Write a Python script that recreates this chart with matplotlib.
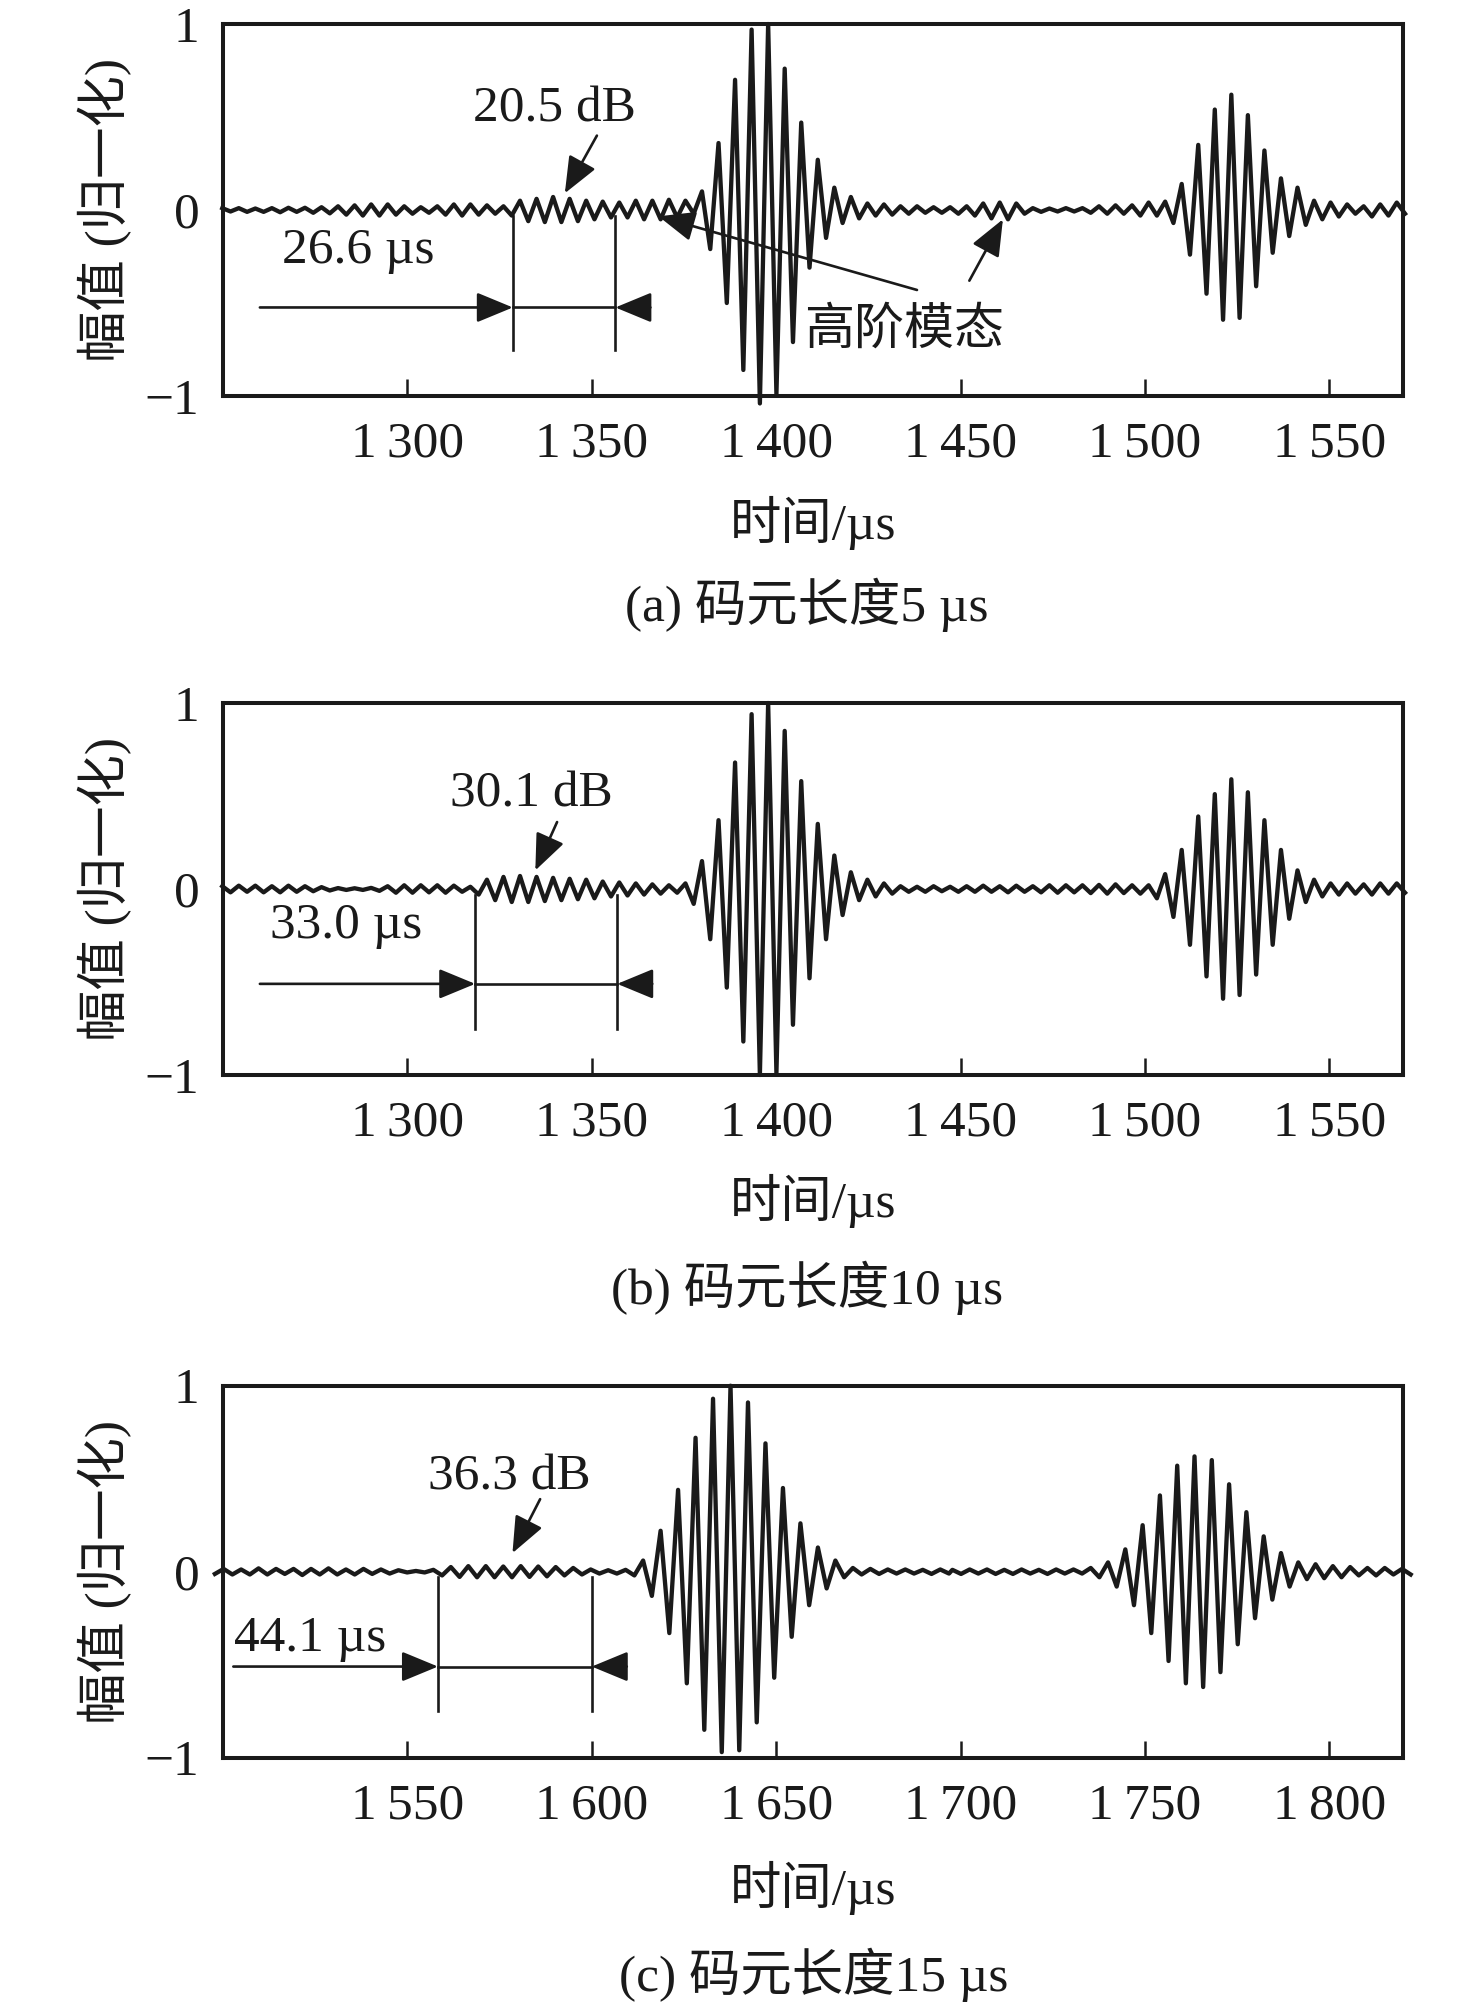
import numpy as np
import matplotlib.pyplot as plt

plt.rcParams['font.family'] = ['Liberation Serif', 'Noto Sans CJK SC', 'DejaVu Serif']

# extrema of each trace: grid start (us), half period (us), signed peak values
start_a = [1249.8]
step_a = [2.243]
amp_a = [[
    0.01, -0.008, 0.01, -0.01, 0.008, -0.01, 0.01, -0.012, 0.012, -0.01, 0.012, -0.015, 0.015, -0.018,
    0.02, -0.025, 0.025, -0.03, 0.03, -0.03, 0.03, -0.025, 0.02, -0.02, 0.015, -0.015, 0.02, -0.025,
    0.03, -0.03, 0.03, -0.025, 0.025, -0.02, 0.02,
    -0.03, 0.05, -0.06, 0.06, -0.065, 0.07, -0.065, 0.06, -0.06, 0.05, -0.05, 0.045, -0.04, 0.04,
    -0.04, 0.05, -0.05, 0.05, -0.05, 0.055, -0.04, 0.05, -0.02,
    0.10, -0.21, 0.36, -0.50, 0.70, -0.86, 0.97, -1.04, 1.0, -0.99, 0.76, -0.71, 0.47, -0.31,
    0.27, -0.15, 0.12, -0.07, 0.07,
    -0.045, 0.035, -0.03, 0.03, -0.025, 0.02, -0.02, 0.02, -0.015, 0.015,
    -0.015, 0.015, -0.02, 0.02,
    -0.03, 0.035, -0.045, 0.04, -0.05, 0.035,
    -0.02, 0.01, -0.01, 0.008, -0.008, 0.01, -0.008, 0.01,
    -0.015, 0.02, -0.02, 0.025, -0.02, 0.025, -0.03, 0.04,
    -0.03, 0.045, -0.07, 0.14, -0.24, 0.35, -0.45, 0.54, -0.59, 0.62, -0.58, 0.51, -0.41, 0.32,
    -0.23, 0.17, -0.14, 0.12,
    -0.08, 0.05, -0.05, 0.04, -0.035, 0.03, -0.02, 0.02, -0.035, 0.03, -0.03, 0.04, -0.02,
]]

start_b = [1249.8]
step_b = [2.243]
amp_b = [[
    0.015, -0.018, 0.018, -0.015, 0.018, -0.018, 0.015, -0.018, 0.018, -0.015, 0.015, -0.012, 0.01, -0.008,
    0.005, -0.005, 0.004, -0.005, 0.006, -0.01,
    0.015, -0.02, 0.02, -0.02, 0.02, -0.018, 0.02, -0.02, 0.018, -0.015, 0.012,
    -0.03, 0.05, -0.06, 0.065, -0.07, 0.07, -0.07, 0.065, -0.065, 0.06, -0.06, 0.055, -0.055, 0.05,
    -0.05, 0.04, -0.04, 0.035, -0.035, 0.03, -0.03, 0.025, -0.025, 0.02, -0.02, 0.03,
    -0.08, 0.15, -0.27, 0.37, -0.53, 0.68, -0.82, 0.94, -1.0, 1.0, -0.99, 0.85, -0.73, 0.58,
    -0.48, 0.35, -0.27, 0.18, -0.14, 0.09,
    -0.06, 0.05, -0.04, 0.03, -0.025,
    0.015, -0.015, 0.012, -0.015, 0.015, -0.012, 0.012, -0.015, 0.015, -0.015, 0.018, -0.015, 0.015,
    -0.018, 0.018, -0.015, 0.015, -0.018, 0.02, -0.02, 0.02, -0.018, 0.02, -0.022, 0.022, -0.025,
    0.025, -0.022, 0.02, -0.025,
    0.02, -0.05, 0.08, -0.15, 0.21, -0.30, 0.39, -0.47, 0.51, -0.59, 0.59, -0.57, 0.52, -0.46,
    0.37, -0.30, 0.21, -0.16, 0.10,
    -0.07, 0.05, -0.04, 0.03, -0.03, 0.03, -0.025, 0.025, -0.03, 0.03, -0.025, 0.03, -0.02,
]]

start_c = [1497.8, 1697.8]
step_c = [2.37, 2.345]
amp_c = [[
    -0.012, 0.015, -0.015, 0.012, -0.015, 0.018, -0.015, 0.015, -0.012, 0.015, -0.018, 0.015,
    -0.015, 0.018, -0.015, 0.012, -0.015, 0.015, -0.012, 0.012, -0.01, 0.008,
    -0.004, 0.004, -0.004,
    0.01, -0.02, 0.025, -0.028, 0.03, -0.03, 0.03, -0.03, 0.028, -0.03, 0.03, -0.028, 0.028,
    -0.025, 0.025, -0.02, 0.02, -0.015, 0.012,
    -0.01, 0.008, -0.01, 0.01, -0.02,
    0.06, -0.13, 0.22, -0.33, 0.44, -0.60, 0.72, -0.85, 0.93, -0.97, 1.0, -0.96, 0.91, -0.81,
    0.69, -0.57, 0.45, -0.35, 0.26, -0.18, 0.13, -0.09, 0.06, -0.03,
    0.02, -0.015, 0.015, -0.012, 0.012, -0.01, 0.012, -0.01, 0.01, -0.012, 0.012, -0.01,
], [
    0.01, -0.012, 0.012, -0.01, 0.012, -0.012, 0.01, -0.012, 0.012, -0.01, 0.01, -0.012,
    0.012, -0.01, 0.012, -0.01,
    0.02, -0.03, 0.05, -0.08, 0.12, -0.18, 0.25, -0.33, 0.41, -0.48, 0.57, -0.60, 0.62, -0.62,
    0.60, -0.54, 0.47, -0.39, 0.32, -0.25, 0.19, -0.15, 0.10, -0.08, 0.05,
    -0.04, 0.04, -0.035, 0.03, -0.03, 0.025, -0.02, 0.02, -0.02, 0.02, -0.015, 0.015, -0.015,
]]

xlims = [(1250, 1570), (1250, 1570), (1500, 1820)]
xticks = [[1300, 1350, 1400, 1450, 1500, 1550],
          [1300, 1350, 1400, 1450, 1500, 1550],
          [1550, 1600, 1650, 1700, 1750, 1800]]
captions = ['(a) 码元长度5 µs', '(b) 码元长度10 µs', '(c) 码元长度15 µs']
snr_labels = ['20.5 dB', '30.1 dB', '36.3 dB']
gap_labels = ['26.6 µs', '33.0 µs', '44.1 µs']
gap_left = [1328.6, 1318.4, 1558.3]
gap_right = [1356.4, 1356.9, 1600.0]

starts = [start_a, start_b, start_c]
steps = [step_a, step_b, step_c]
amps = [amp_a, amp_b, amp_c]

W, H = 1476, 2011
fig = plt.figure(figsize=(W / 100, H / 100), dpi=100)
ink = '#1a1a1a'
fs = 37

# layout (pixels): axes bottom, x-label y, caption y, caption x
ax_bottom = [396.0, 1075.0, 1757.7]
xlab_y = [523, 1201, 1888]
cap_y = [605, 1288, 1975]
cap_x = [807, 807, 814]

# annotation placement in data units
snr_text = [(1339.9, 0.54), (1333.7, 0.51), (1577.6, 0.51)]
snr_tail = [(1351.4, 0.40), (1340.6, 0.36), (1586.0, 0.39)]
snr_tip = [(1342.7, 0.09), (1334.7, 0.10), (1578.5, 0.10)]
gap_text = [(1286.7, -0.22), (1283.3, -0.20), (1523.5, -0.36)]
dim_y = [-0.524, -0.51, -0.51]
dim_x0 = [1260.0, 1260.0, 1502.8]


def arrow(ax, x0, y0, x1, y1):
    ax.annotate('', xy=(x1, y1), xytext=(x0, y0),
                arrowprops=dict(arrowstyle='-|>,head_length=1.5,head_width=0.62',
                                mutation_scale=15, lw=1.9, color=ink,
                                shrinkA=0, shrinkB=0))


for k in range(3):
    ax = fig.add_axes([223 / W, 1 - ax_bottom[k] / H, 1180 / W, 372 / H])
    t = np.concatenate([s + h * np.arange(len(a))
                        for s, h, a in zip(starts[k], steps[k], amps[k])])
    y = np.concatenate([np.asarray(a) for a in amps[k]])
    ax.plot(t, y, color=ink, lw=3.1, clip_on=False, zorder=2)

    ax.set_xlim(xlims[k])
    ax.set_ylim(-1, 1)
    ax.set_xticks(xticks[k])
    ax.set_xticklabels([f'{v // 1000}\u2009{v % 1000:03d}' for v in xticks[k]])
    ax.set_yticks([-1, 0, 1])
    ax.set_yticklabels(['\u22121', '0', '1'])
    ax.tick_params(axis='x', direction='in', length=12, width=1.8, pad=18,
                   labelsize=fs, colors=ink)
    ax.tick_params(axis='y', length=0, pad=17, labelsize=fs, colors=ink)
    for sp in ax.spines.values():
        sp.set_linewidth(2.9)
        sp.set_color(ink)

    # SNR label with arrow
    ax.text(*snr_text[k], snr_labels[k], fontsize=fs, ha='center', va='center', color=ink)
    arrow(ax, *snr_tail[k], *snr_tip[k])

    # time gap dimension
    ax.text(*gap_text[k], gap_labels[k], fontsize=fs, ha='center', va='center', color=ink)
    for xv in (gap_left[k], gap_right[k]):
        ax.plot([xv, xv], [-0.03, -0.75], color=ink, lw=1.9)
    ax.plot([gap_left[k], gap_right[k]], [dim_y[k]] * 2, color=ink, lw=1.9)
    arrow(ax, dim_x0[k], dim_y[k], gap_left[k], dim_y[k])
    arrow(ax, gap_right[k] + 9.5, dim_y[k], gap_right[k], dim_y[k])

    if k == 0:
        ax.text(1434.7, -0.65, '高阶模态', fontsize=fs - 1, ha='center', va='center', color=ink)
        arrow(ax, 1438.2, -0.43, 1368.1, -0.034)
        arrow(ax, 1452.4, -0.38, 1461.5, -0.05)

    fig.text(105 / W, 1 - (ax_bottom[k] - 186) / H, '幅值 (归一化)', rotation=90,
             fontsize=fs, ha='center', va='center', color=ink)
    fig.text(813 / W, 1 - xlab_y[k] / H, '时间/µs', fontsize=fs,
             ha='center', va='center', color=ink)
    fig.text(cap_x[k] / W, 1 - cap_y[k] / H, captions[k], fontsize=fs,
             ha='center', va='center', color=ink)

fig.savefig('out.png', dpi=100)
